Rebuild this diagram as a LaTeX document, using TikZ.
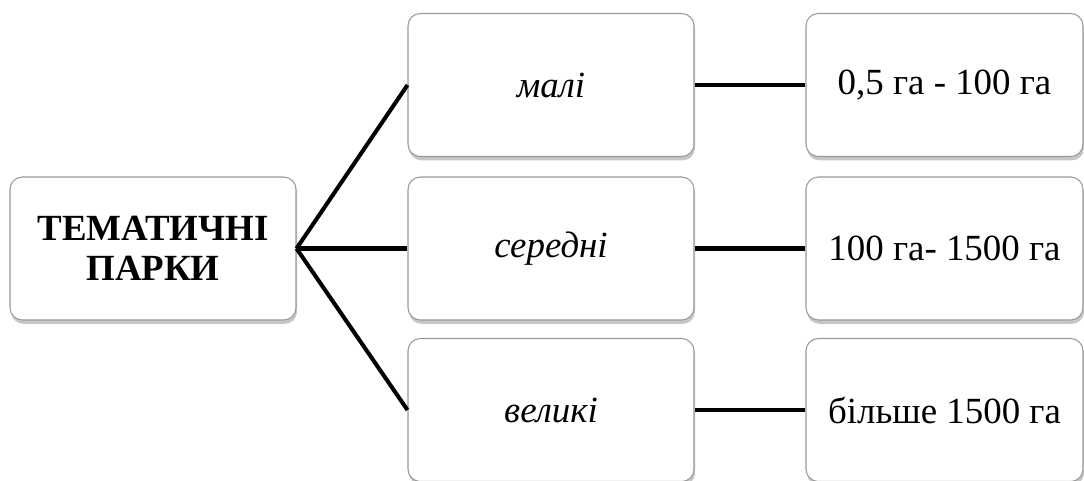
\documentclass[tikz,border=0pt]{standalone}
\usepackage{fontspec}
\setmainfont{Liberation Serif}[Ligatures=TeX]
\usetikzlibrary{shadows}
\tikzset{
  box/.style={draw=gray!80,line width=0.6pt,fill=white,rounded corners=7pt,
    minimum height=2.86cm,align=center,
    drop shadow={shadow xshift=0.6pt,shadow yshift=-2.2pt,opacity=0.45,fill=gray}},
  link/.style={line width=2.3pt,black}
}
\begin{document}
\begin{tikzpicture}
\fontsize{21}{23}\selectfont
\useasboundingbox (0,0) rectangle (21.68,9.6);
\node[box,minimum width=5.72cm] (parks)at(3.06,4.63){\textbf{ТЕМАТИЧНІ}\\\textbf{ПАРКИ}};
\node[box,minimum width=5.72cm] (small)at(11.02,7.9){\textit{малі}};
\node[box,minimum width=5.72cm] (medium)at(11.02,4.63){\textit{середні}};
\node[box,minimum width=5.72cm] (large)at(11.02,1.4){\textit{великі}};
\node[box,minimum width=5.54cm] (smallarea)at(18.89,7.9){0,5 га - 100 га};
\node[box,minimum width=5.54cm] (mediumarea)at(18.89,4.63){100 га- 1500 га};
\node[box,minimum width=5.54cm] (largearea)at(18.89,1.4){більше 1500 га};
\draw[link] (parks.east) -- (small.west);
\draw[link] (parks.east) -- (medium.west);
\draw[link] (parks.east) -- (large.west);
\draw[link] (small) -- (smallarea);
\draw[link] (medium) -- (mediumarea);
\draw[link] (large) -- (largearea);
\end{tikzpicture}
\end{document}
